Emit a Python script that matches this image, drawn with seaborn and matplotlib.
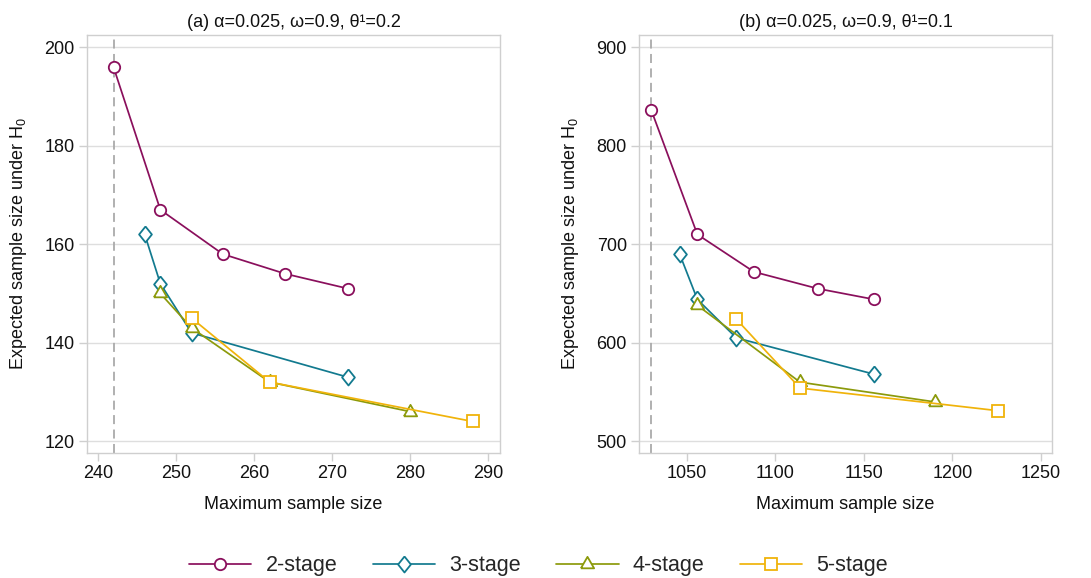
import matplotlib
matplotlib.use("Agg")
import matplotlib.pyplot as plt
import seaborn as sns
import pandas as pd

# Panel (a): alpha=0.025, omega=0.9, theta1=0.2
a_x2 = [242, 248, 256, 264, 272]
a_y2 = [196, 167, 158, 154, 151]
a_x3 = [246, 248, 252, 272]
a_y3 = [162, 152, 142, 133]
a_x4 = [248, 252, 262, 280]
a_y4 = [150, 143, 132, 126]
a_x5 = [252, 262, 288]
a_y5 = [145, 132, 124]
a_ref = 242

# Panel (b): alpha=0.025, omega=0.9, theta1=0.1
b_x2 = [1030, 1056, 1088, 1124, 1156]
b_y2 = [836, 710, 672, 655, 644]
b_x3 = [1046, 1056, 1078, 1156]
b_y3 = [690, 644, 605, 568]
b_x4 = [1056, 1114, 1190]
b_y4 = [638, 560, 540]
b_x5 = [1078, 1114, 1226]
b_y5 = [624, 554, 531]
b_ref = 1030

stages = ["2-stage", "3-stage", "4-stage", "5-stage"]
colors = ["#8a0f5c", "#127a8f", "#8c9a0b", "#f0b30a"]

# Stata-like marker shapes: circle, tall diamond, equilateral triangle, square
diamond = [(0, 1), (0.8, 0), (0, -1), (-0.8, 0), (0, 1)]
triangle = [(-1, -0.577), (1, -0.577), (0, 1.155), (-1, -0.577)]
markers = ["o", diamond, triangle, "s"]
msizes = [8.2, 11.5, 11.0, 8.8]

a_xticks = [240, 250, 260, 270, 280, 290]
a_yticks = [120, 140, 160, 180, 200]
b_xticks = [1050, 1100, 1150, 1200, 1250]
b_yticks = [500, 600, 700, 800, 900]

sns.set_theme(style="white")
plt.rcParams["font.family"] = ["Liberation Sans", "DejaVu Sans"]
plt.rcParams["mathtext.fontset"] = "custom"
plt.rcParams["mathtext.rm"] = "Liberation Sans"
plt.rcParams["mathtext.it"] = "Liberation Sans"
plt.rcParams["mathtext.default"] = "regular"

fig = plt.figure(figsize=(10.91, 5.78), dpi=100)
ax_a = fig.add_axes([0.0797, 0.2163, 0.3786, 0.7231])
ax_b = fig.add_axes([0.5860, 0.2163, 0.3780, 0.7231])

panels = [
    (ax_a, [(a_x2, a_y2), (a_x3, a_y3), (a_x4, a_y4), (a_x5, a_y5)], a_ref,
     "(a) α=0.025, ω=0.9, θ¹=0.2", a_xticks, a_yticks, (238.6, 291.5), (117.6, 202.5)),
    (ax_b, [(b_x2, b_y2), (b_x3, b_y3), (b_x4, b_y4), (b_x5, b_y5)], b_ref,
     "(b) α=0.025, ω=0.9, θ¹=0.1", b_xticks, b_yticks, (1023.2, 1256.2), (488.1, 912.5)),
]

frame_col = "#cfcfcf"
grid_col = "#dedede"
text_col = "#111111"

for ax, series, ref, title, xt, yt, xl, yl in panels:
    ax.axvline(ref, color="#aaaaaa", lw=1.3, ls=(0, (5, 3)), zorder=1)
    for (xs, ys), lab, col, mk, ms in zip(series, stages, colors, markers, msizes):
        df = pd.DataFrame({"n_max": xs, "en0": ys})
        sns.lineplot(data=df, x="n_max", y="en0", ax=ax, color=col, lw=1.25,
                     marker=mk, markersize=ms, markerfacecolor="white",
                     markeredgecolor=col, markeredgewidth=1.3,
                     estimator=None, sort=False, label=lab, zorder=3)
    ax.set_xlim(*xl)
    ax.set_ylim(*yl)
    ax.set_xticks(xt)
    ax.set_yticks(yt)
    ax.yaxis.grid(True, color=grid_col, lw=1.0)
    ax.xaxis.grid(False)
    ax.set_axisbelow(True)
    for sp in ax.spines.values():
        sp.set_color(frame_col)
        sp.set_linewidth(1.0)
    ax.tick_params(axis="both", which="major", direction="out", length=6,
                   width=1.0, color=frame_col, labelsize=13,
                   labelcolor=text_col, pad=3, bottom=True, left=True)
    ax.set_xlabel("Maximum sample size", fontsize=13, color=text_col, labelpad=10)
    ax.set_ylabel("Expected sample size under H$_0$", fontsize=13,
                  color=text_col, labelpad=11)
    ax.set_title(title, fontsize=13, color=text_col, pad=6)
    ax.get_legend().remove()

handles, labels = ax_a.get_legend_handles_labels()
fig.legend(handles, labels, loc="center", bbox_to_anchor=(0.4936, 0.021),
           ncol=4, frameon=False, fontsize=15.5, handlelength=2.9,
           handletextpad=0.65, columnspacing=1.65)

fig.savefig("out.png", dpi=100, facecolor="white")
